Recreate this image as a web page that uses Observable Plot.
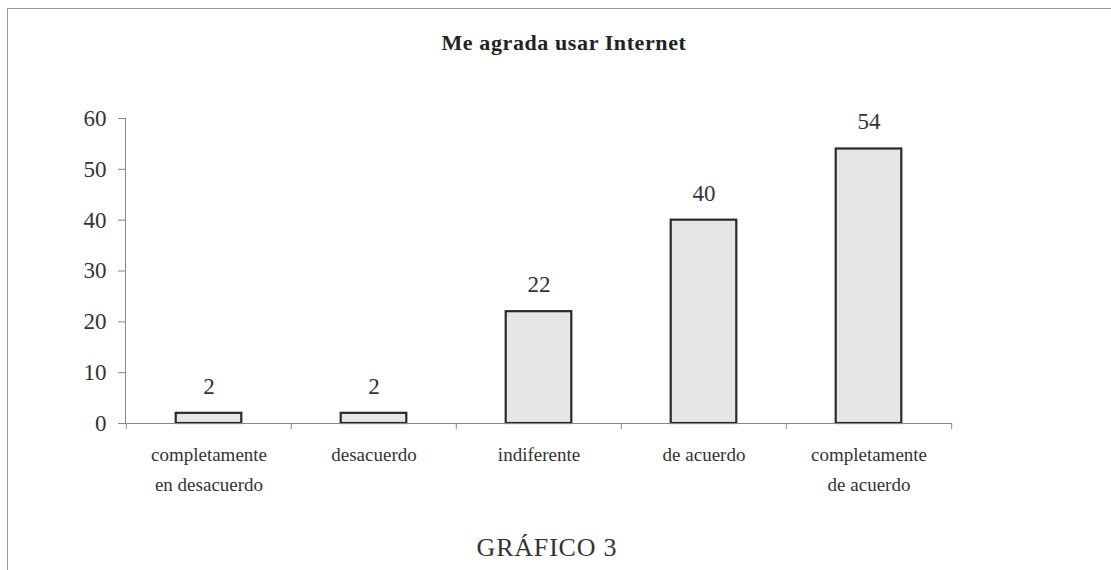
<!DOCTYPE html>
<html>
<head>
<meta charset="utf-8">
<script src="https://cdn.jsdelivr.net/npm/d3@7"></script>
<script src="https://cdn.jsdelivr.net/npm/@observablehq/plot@0.6"></script>
<style>
  html, body { margin: 0; padding: 0; background: #fff; width: 1111px; height: 570px; overflow: hidden; }
  #frame { position: absolute; left: 7px; top: 8px; width: 1300px; height: 700px;
           border-left: 1px solid #999; border-top: 1px solid #999; }
  #title { position: absolute; left: 0; width: 1128px; top: 30px; text-align: center;
           font: bold 22px "Liberation Serif", "Times New Roman", serif; color: #222; letter-spacing: 0.6px; }
  #chart { position: absolute; left: 0; top: 0; }
  #caption { position: absolute; left: 0; width: 1094px; top: 533px; text-align: center;
             font: 26px "Liberation Serif", "Times New Roman", serif; color: #333; letter-spacing: 0.8px; }
</style>
</head>
<body>
<div id="frame"></div>
<div id="title">Me agrada usar Internet</div>
<div id="chart"></div>
<div id="caption">GRÁFICO 3</div>
<script>
const categories = ["completamente\nen desacuerdo", "desacuerdo", "indiferente", "de acuerdo", "completamente\nde acuerdo"];
const values = [2, 2, 22, 40, 54];
const yTicks = [0, 10, 20, 30, 40, 50, 60];

const data = categories.map((c, i) => ({category: c, value: values[i]}));

const width = 1111, height = 520;
const marginLeft = 125, marginRight = 159, marginTop = 118, marginBottom = 97;
const step = (width - marginLeft - marginRight) / categories.length;
const barWidth = 66;
const inset = (step - barWidth) / 2;
const serif = '"Liberation Serif", "Times New Roman", serif';

const chart = Plot.plot({
  width, height, marginLeft, marginRight, marginTop, marginBottom,
  style: {fontFamily: serif, background: "transparent", overflow: "visible"},
  x: {type: "band", domain: categories, padding: 0, axis: null},
  y: {domain: [0, 60], axis: null},
  marks: [
    // y axis line and ticks
    Plot.frame({anchor: "left", stroke: "#888", strokeWidth: 1}),
    Plot.axisY({ticks: yTicks, tickSize: 7, tickPadding: 12, fontSize: 23, stroke: "#888", fill: "#333", label: null, strokeWidth: 1}),
    // bars
    Plot.barY(data, {x: "category", y: "value", fill: "#e6e6e6", stroke: "#2a2a2a", strokeWidth: 2.2, insetLeft: inset, insetRight: inset}),
    // x axis baseline
    Plot.ruleY([0], {stroke: "#888", strokeWidth: 1}),
    // boundary ticks on x axis (left edge of each band, plus the right end)
    Plot.ruleX(categories, {x: d => d, y1: 0, y2: 0, insetBottom: -6, dx: -step / 2, stroke: "#888", strokeWidth: 1}),
    Plot.ruleX(categories.slice(-1), {x: d => d, y1: 0, y2: 0, insetBottom: -6, dx: step / 2, stroke: "#888", strokeWidth: 1}),
    // value labels
    Plot.text(data, {x: "category", y: "value", text: d => String(d.value), dy: -27, fontSize: 23, fill: "#333"}),
    // category labels
    Plot.text(categories, {x: d => d, y: 0, text: d => d, dy: 16, lineAnchor: "top", lineHeight: 1.6,
      fontSize: 19, fill: "#333", letterSpacing: "1px"})
  ]
});

document.getElementById("chart").appendChild(chart);
</script>
</body>
</html>
